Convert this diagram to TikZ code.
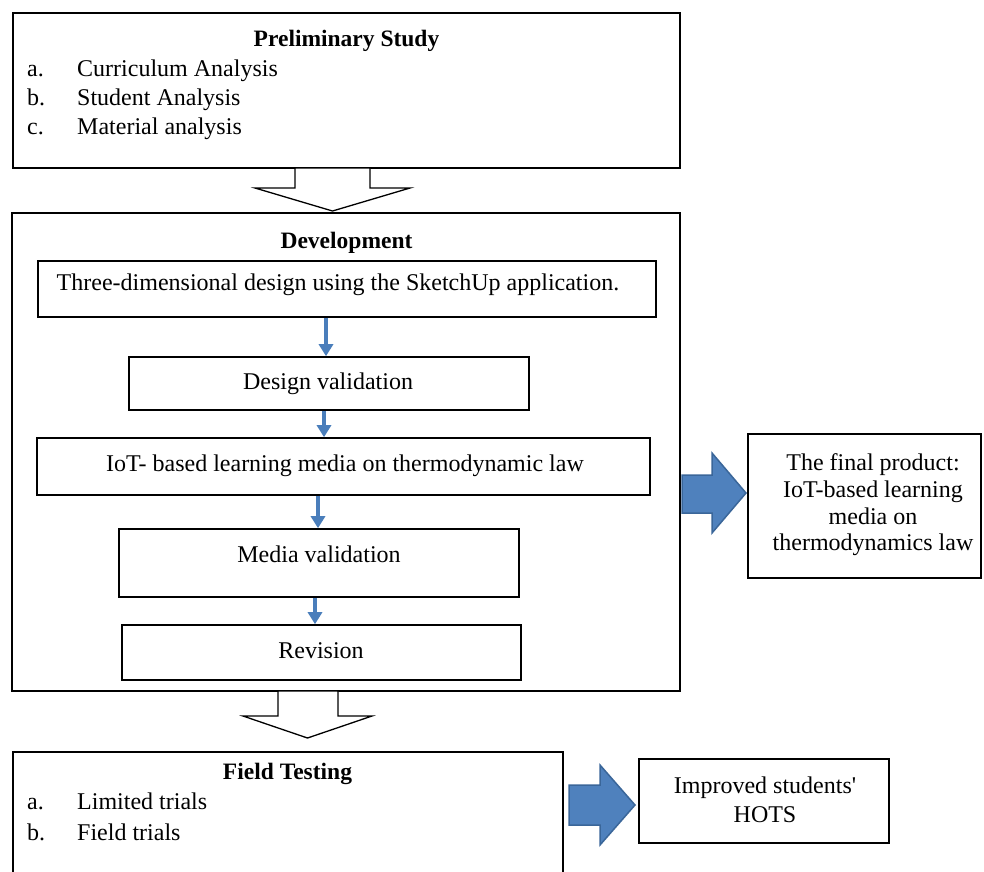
\documentclass[tikz,border=0pt]{standalone}
\usepackage{fontspec}
\setmainfont{Liberation Serif}
\usetikzlibrary{arrows.meta}
\font\plainq="Liberation Serif" at 24pt
\definecolor{ablue}{HTML}{4F81BD}
\definecolor{ablueline}{HTML}{3A6699}
\definecolor{tblue}{HTML}{4A7EBB}
\tikzset{
  box/.style={draw=black, line width=1.6pt, inner sep=0pt, rectangle},
  txt/.style={inner sep=0pt, anchor=base, font=\fontsize{24}{28}\selectfont},
  ttl/.style={inner sep=0pt, anchor=base, font=\fontsize{23.5}{28}\selectfont\bfseries},
  lst/.style={txt, anchor=base west},
  thinarrow/.style={draw=tblue, line width=4.5pt, -{Triangle[width=14pt,length=12pt]}},
  hollow/.style={draw=black, line width=1.3pt, fill=white, line join=miter},
  blockarrow/.style={draw=ablueline, line width=1.5pt, fill=ablue, line join=miter}
}
\begin{document}
\begin{tikzpicture}[x=1pt, y=-1pt]
\useasboundingbox (0,0) rectangle (984,871);
\clip (0,0) rectangle (984,871);

% Preliminary study
\node[box, minimum width=667pt, minimum height=155pt] (pre) at (346.5,90.5) {};
\node[ttl] (pret) at (346.5,46) {Preliminary Study};
\node[lst] (prea) at (27,76) {a.};
\node[lst] (preat) at (77,76) {Curriculum Analysis};
\node[lst] (preb) at (27,105.5) {b.};
\node[lst] (prebt) at (77,105.5) {Student Analysis};
\node[lst] (prec) at (27,134.5) {c.};
\node[lst] (prect) at (77,134.5) {Material analysis};

% Development
\node[box, minimum width=668pt, minimum height=478pt] (dev) at (346,452) {};
\node[ttl] (devt) at (346.5,248) {Development};

\node[box, minimum width=618pt, minimum height=56pt] (b1) at (347,289) {};
\node[txt] (b1t) at (338,290) {Three-dimensional design using the SketchUp application.};
\node[box, minimum width=400pt, minimum height=53pt] (b2) at (329,383.5) {};
\node[txt] (b2t) at (328,389) {Design validation};
\node[box, minimum width=613pt, minimum height=57pt] (b3) at (343.5,466.5) {};
\node[txt] (b3t) at (345,471) {IoT- based learning media on thermodynamic law};
\node[box, minimum width=400pt, minimum height=68pt] (b4) at (319,563) {};
\node[txt] (b4t) at (319,562) {Media validation};
\node[box, minimum width=399pt, minimum height=55pt] (b5) at (321.5,652.5) {};
\node[txt] (b5t) at (321,658) {Revision};

\coordinate (c1) at (326,0);
\coordinate (c2) at (324,0);
\coordinate (c3) at (318,0);
\coordinate (c4) at (315,0);
\draw[thinarrow] (b1.south -| c1) -- (b2.north -| c1);
\draw[thinarrow] (b2.south -| c2) -- (b3.north -| c2);
\draw[thinarrow] (b3.south -| c3) -- (b4.north -| c3);
\draw[thinarrow] (b4.south -| c4) -- (b5.north -| c4);

% hollow arrows
\draw[hollow] (295,168) -- (295,188) -- (255,188) -- (332.5,211) -- (410,188) -- (370,188) -- (370,168) -- cycle;
\draw[hollow] (278,691) -- (278,716) -- (243,716) -- (307.5,738) -- (372,716) -- (338,716) -- (338,691) -- cycle;

% Final product
\node[box, minimum width=233pt, minimum height=144pt] (fin) at (864.5,506) {};
\node[txt] (fin1) at (873,470) {The final product:};
\node[txt] (fin2) at (873,497) {IoT-based learning};
\node[txt] (fin3) at (873,524) {media on};
\node[txt] (fin4) at (873,550) {thermodynamics law};
\draw[blockarrow] (682,475) -- (712,475) -- (712,453) -- (746,493) -- (712,533) -- (712,513) -- (682,513) -- cycle;

% Field testing
\node[box, minimum width=550pt, minimum height=160pt, anchor=north west] (field) at (12,751) {};
\node[ttl] (fieldt) at (287.5,779) {Field Testing};
\node[lst] (fa) at (27,809) {a.};
\node[lst] (fat) at (77,809) {Limited trials};
\node[lst] (fb) at (27,840) {b.};
\node[lst] (fbt) at (77,840) {Field trials};

% HOTS
\node[box, minimum width=250pt, minimum height=84pt] (hots) at (764,801) {};
\node[txt] (h1) at (765,793) {Improved students{\plainq\char"27}};
\node[txt] (h2) at (765,822) {HOTS};
\draw[blockarrow] (569,785) -- (600,785) -- (600,765) -- (635,805) -- (600,845) -- (600,825) -- (569,825) -- cycle;
\end{tikzpicture}
\end{document}
